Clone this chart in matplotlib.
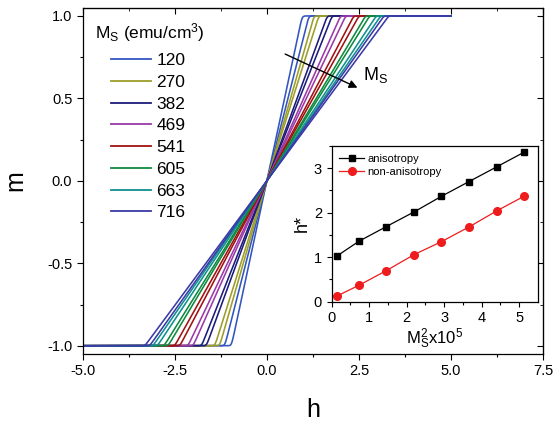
import numpy as np
import matplotlib
matplotlib.use("Agg")
import matplotlib.pyplot as plt
from matplotlib.lines import Line2D

plt.rcParams['font.family'] = ['Liberation Sans', 'DejaVu Sans']
plt.rcParams['mathtext.fontset'] = 'custom'
plt.rcParams['mathtext.rm'] = 'Liberation Sans'
plt.rcParams['mathtext.it'] = 'Liberation Sans'

# ---- data ----
ms_labels = ['120', '270', '382', '469', '541', '605', '663', '716']
colors = ['#3355c0', '#9d9d2a', '#1c1c7a', '#9b3aa8', '#a01212', '#0e8a3e', '#0f8f8f', '#3a3aa8']
# saturation fields of the two branches of each curve
h_sat_outer = [1.14, 1.41, 1.77, 2.14, 2.50, 2.79, 3.09, 3.31]
h_sat_inner = [0.96, 1.28, 1.64, 2.00, 2.36, 2.68, 2.97, 3.18]

ms2 = [0.144, 0.729, 1.459, 2.200, 2.927, 3.660, 4.396, 5.127]
h_aniso = [1.03, 1.36, 1.69, 2.02, 2.37, 2.70, 3.03, 3.36]
h_nonaniso = [0.13, 0.37, 0.70, 1.06, 1.35, 1.68, 2.04, 2.37]

W, H = 557, 422
fig = plt.figure(figsize=(W / 100, H / 100), dpi=100)
ax = fig.add_axes([82.7 / W, 1 - 354 / H, (543 - 82.7) / W, (354 - 7.7) / H])

h = np.linspace(-5, 5, 2001)
k = 25.0
def S(x):
    return (np.logaddexp(k * x, -k * x) - np.log(2)) / k

handles = []
for lab, c, ho, hi in zip(ms_labels, colors, h_sat_outer, h_sat_inner):
    for hs in (ho, hi):
        m = (S(h + hs) - S(h - hs)) / (2 * hs)
        ax.plot(h, m, color=c, lw=1.15)
    handles.append(Line2D([], [], color=c, lw=1.3))

ax.set_xlim(-5, 7.5)
ax.set_ylim(-1.05, 1.05)
ax.set_xticks([-5.0, -2.5, 0.0, 2.5, 5.0, 7.5])
ax.set_xticks(np.arange(-3.75, 7.5, 2.5), minor=True)
ax.set_yticks([-1.0, -0.5, 0.0, 0.5, 1.0])
ax.set_yticks([-0.75, -0.25, 0.25, 0.75], minor=True)
ax.xaxis.set_major_formatter(matplotlib.ticker.FormatStrFormatter('%.1f'))
ax.yaxis.set_major_formatter(matplotlib.ticker.FormatStrFormatter('%.1f'))
ax.tick_params(which='both', direction='out', labelsize=10.5, width=0.8)
ax.tick_params(which='major', length=4)
ax.tick_params(which='minor', length=2.5)
for sp in ax.spines.values():
    sp.set_linewidth(0.9)

# mirrored ticks top/right pointing inward
secx = ax.secondary_xaxis('top')
secx.set_xticks([-5.0, -2.5, 0.0, 2.5, 5.0, 7.5])
secx.set_xticks(np.arange(-3.75, 7.5, 2.5), minor=True)
secx.tick_params(which='both', direction='in', labeltop=False)
secx.tick_params(which='major', length=4)
secx.tick_params(which='minor', length=2.5)
secy = ax.secondary_yaxis('right')
secy.set_yticks([-1.0, -0.5, 0.0, 0.5, 1.0])
secy.set_yticks([-0.75, -0.25, 0.25, 0.75], minor=True)
secy.tick_params(which='both', direction='in', labelright=False)
secy.tick_params(which='major', length=4)
secy.tick_params(which='minor', length=2.5)

ax.set_xlabel('h', fontsize=18, labelpad=14)
ax.set_ylabel('m', fontsize=18, labelpad=14)

fig.text(95 / W, 1 - 33 / H, 'M$_\\mathrm{S}$ (emu/cm$^3$)', fontsize=12.5,
         ha='left', va='center')
leg = fig.legend(handles, ms_labels, loc='upper left',
                 bbox_to_anchor=(111 / W, 1 - 53 / H), frameon=False,
                 fontsize=12.5, handlelength=2.3, handletextpad=0.3,
                 labelspacing=0.38, borderpad=0, borderaxespad=0)

ax.annotate('', xy=(2.53, 0.558), xytext=(0.43, 0.776),
            arrowprops=dict(arrowstyle='-|>', color='black', lw=1.0,
                            mutation_scale=12))
ax.text(2.6, 0.64, 'M$_\\mathrm{S}$', fontsize=13, va='center', ha='left')

# ---- inset ----
ins = fig.add_axes([331.7 / W, 1 - 301.7 / H, (538 - 331.7) / W, (301.7 - 146) / H])
ins.plot(ms2, h_aniso, '-s', color='black', lw=0.9, ms=5, label='anisotropy')
ins.plot(ms2, h_nonaniso, '-o', color='#ee1c1c', lw=0.9, ms=5.5, label='non-anisotropy')
ins.set_xlim(0, 5.5)
ins.set_ylim(0, 3.5)
ins.set_xticks([0, 1, 2, 3, 4, 5])
ins.set_xticks(np.arange(0.5, 5.5, 1.0), minor=True)
ins.set_yticks([0, 1, 2, 3])
ins.set_yticks([0.5, 1.5, 2.5, 3.5], minor=True)
ins.tick_params(which='both', direction='out', labelsize=10.5, width=0.8)
ins.tick_params(which='major', length=3.5)
ins.tick_params(which='minor', length=2)
for sp in ins.spines.values():
    sp.set_linewidth(0.9)
ins.set_ylabel('h*', fontsize=13, labelpad=2)
ins.set_xlabel('M$_\\mathrm{S}^2$x10$^5$', fontsize=12, labelpad=1)
ins.legend(loc='upper left', frameon=False, fontsize=8, handlelength=2.2,
           handletextpad=0.3, labelspacing=0.3, borderaxespad=0.3)

fig.savefig('out.png', dpi=100)
